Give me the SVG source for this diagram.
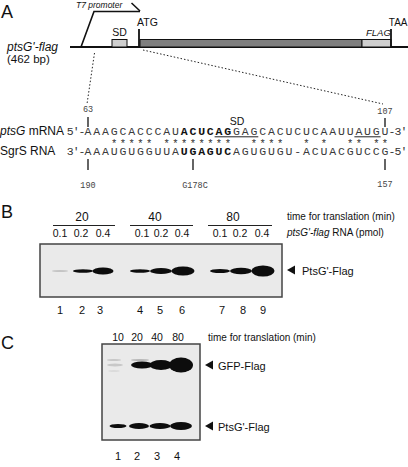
<svg xmlns="http://www.w3.org/2000/svg" width="408" height="467" viewBox="0 0 408 467">
<defs>
<style>
.sans{font-family:"Liberation Sans",Arial,sans-serif;fill:#111}
.it{font-style:italic}
.mono{font-family:"Liberation Mono","Courier New",monospace;fill:#333}
.end{font-family:"Liberation Mono","Courier New",monospace;font-size:11.5px;letter-spacing:-1px;fill:#333}
.seq{font-family:"Liberation Mono","Courier New",monospace;font-size:11.5px;letter-spacing:1.835px;fill:#3a3a3a}
.b{font-weight:bold;fill:#111}
.num{font-family:"Liberation Mono","Courier New",monospace;font-size:8.5px;fill:#444;text-anchor:middle}
.tick{stroke:#111;stroke-width:1.3}
.blot{fill:#eaeaea;stroke:#444;stroke-width:1.5}
.band{fill:#0d0d0d}
.hdr{stroke:#222;stroke-width:1}
</style>
<filter id="soft" x="-20%" y="-50%" width="140%" height="200%"><feGaussianBlur stdDeviation="0.7"/></filter>
</defs>
<rect width="408" height="467" fill="#fff"/>

<!-- Panel A -->
<text class="sans" x="1" y="18" font-size="18">A</text>
<g id="construct">
<line x1="70" y1="47" x2="408" y2="47" stroke="#111" stroke-width="2"/>
<polyline points="81,47 94,11.5 140,11.5" fill="none" stroke="#111" stroke-width="1.6"/>
<line x1="131.5" y1="3" x2="140" y2="11" stroke="#111" stroke-width="1.6"/>
<text class="sans it" x="76" y="8" font-size="8.5">T7 promoter</text>
<rect x="112" y="39.5" width="15" height="7.5" fill="#cfcfcf" stroke="#111" stroke-width="1"/>
<text class="sans" x="119.5" y="36" font-size="10.5" text-anchor="middle">SD</text>
<rect x="140" y="39.5" width="222" height="7.5" fill="#7f7f7f" stroke="#111" stroke-width="1"/>
<rect x="362" y="39.5" width="29" height="7.5" fill="#cfcfcf" stroke="#111" stroke-width="1"/>
<text class="sans it" x="366" y="36" font-size="9.5">FLAG</text>
<line x1="139" y1="29" x2="139" y2="47" stroke="#111" stroke-width="1.8"/>
<line x1="391" y1="29" x2="391" y2="47" stroke="#111" stroke-width="1.8"/>
<text class="sans" x="137" y="26" font-size="10.5">ATG</text>
<text class="sans" x="407.5" y="26" font-size="10" text-anchor="end">TAA</text>
<text class="sans it" x="7" y="51" font-size="12">ptsG'-flag</text>
<text class="sans" x="7" y="63" font-size="11.5">(462 bp)</text>
</g>
<g id="connectors">
<line x1="94.5" y1="53" x2="87" y2="104" stroke="#222" stroke-width="1" stroke-dasharray="1.5,2"/>
<line x1="143" y1="50" x2="383" y2="104" stroke="#222" stroke-width="1" stroke-dasharray="1.5,2"/>
</g>

<g id="sequence">
<text class="num" x="88" y="112">63</text>
<text class="num" x="385" y="114">107</text>
<line class="tick" x1="88" y1="117" x2="88" y2="127"/>
<line class="tick" x1="385" y1="118" x2="385" y2="127"/>
<text class="sans" x="237" y="124.5" font-size="10.5" text-anchor="middle">SD</text>
<text class="sans" x="0" y="134.5" font-size="12"><tspan class="it">ptsG</tspan> mRNA</text>
<text class="sans" x="0" y="155" font-size="12">SgrS RNA</text>
<text class="end" x="84.5" y="134.5" text-anchor="end">5'-</text>
<text class="seq" x="84.55" y="134.5">AAAGCACCCAU<tspan class="b">ACUCAG</tspan>GAGCACUCUCAAUUAUGU</text>
<text class="end" x="388.6" y="134.5">-3'</text>
<line x1="214.6" y1="136.8" x2="258.3" y2="136.8" stroke="#222" stroke-width="1"/>
<line x1="354.4" y1="136.8" x2="380.6" y2="136.8" stroke="#222" stroke-width="1"/>
<text class="mono" y="147" font-size="10.5" text-anchor="middle" fill="#444" x="114.2 122.9 131.7 140.4 149.1 166.6 175.4 184.1 192.8 201.6 210.3 219.0 227.8 254.0 262.7 271.4 280.2 306.4 323.9 350.1 358.8 376.3 385.0">***********************</text>
<text class="end" x="84.5" y="155" text-anchor="end">3'-</text>
<text class="seq" x="84.55" y="155">AAAUGUGGUUA<tspan class="b">UGAGUC</tspan>AGUGUGU-ACUACGUCCG</text>
<text class="end" x="388.6" y="155">-5'</text>
<line class="tick" x1="88" y1="159" x2="88" y2="170"/>
<line class="tick" x1="193" y1="159" x2="193" y2="170"/>
<line class="tick" x1="385" y1="159" x2="385" y2="170"/>
<text class="num" x="88" y="188">190</text>
<text class="num" x="195" y="188" font-size="9">G178C</text>
<text class="num" x="385" y="187">157</text>
</g>

<!-- Panel B -->
<text class="sans" x="1" y="218" font-size="18">B</text>
<g id="blotB">
<g class="sans" font-size="12" text-anchor="middle">
<text x="82" y="221">20</text><text x="155" y="221">40</text><text x="233" y="221">80</text>
</g>
<line class="hdr" x1="53" y1="225.5" x2="115" y2="225.5"/>
<line class="hdr" x1="130" y1="225.5" x2="193" y2="225.5"/>
<line class="hdr" x1="208" y1="225.5" x2="272" y2="225.5"/>
<g class="sans" font-size="10.5" text-anchor="middle">
<text x="60" y="237">0.1</text><text x="81" y="237">0.2</text><text x="103" y="237">0.4</text>
<text x="142" y="237">0.1</text><text x="161" y="237">0.2</text><text x="182" y="237">0.4</text>
<text x="220" y="237">0.1</text><text x="240" y="237">0.2</text><text x="262" y="237">0.4</text>
</g>
<text class="sans" x="287" y="220" font-size="10">time for translation (min)</text>
<text class="sans" x="287" y="236" font-size="10"><tspan class="it">ptsG'-flag</tspan> RNA (pmol)</text>
<rect class="blot" x="40" y="244" width="242" height="53"/>
<g filter="url(#soft)">
<ellipse cx="60" cy="271" rx="8" ry="1" fill="#c4c4c4"/>
<ellipse class="band" cx="83" cy="271" rx="10" ry="1.8"/>
<ellipse class="band" cx="103" cy="271" rx="10.5" ry="3.6"/>
<ellipse class="band" cx="140" cy="271" rx="10" ry="1.8"/>
<ellipse class="band" cx="161" cy="271" rx="11" ry="3"/>
<ellipse class="band" cx="183" cy="271" rx="11.5" ry="4.5"/>
<ellipse class="band" cx="220" cy="271" rx="10" ry="2"/>
<ellipse class="band" cx="241" cy="271" rx="11" ry="3.3"/>
<ellipse class="band" cx="263" cy="271" rx="11.5" ry="5.5"/>
</g>
<polygon points="287,270 295,265.5 295,274.5" fill="#111"/>
<text class="sans" x="302" y="275" font-size="11">PtsG'-Flag</text>
<g class="sans" font-size="11" text-anchor="middle">
<text x="60" y="314">1</text><text x="82" y="314">2</text><text x="100" y="314">3</text>
<text x="140" y="314">4</text><text x="160" y="314">5</text><text x="182" y="314">6</text>
<text x="222" y="314">7</text><text x="243" y="314">8</text><text x="263" y="314">9</text>
</g>
</g>

<!-- Panel C -->
<text class="sans" x="1" y="349" font-size="18">C</text>
<g id="blotC">
<g class="sans" font-size="10.5" text-anchor="middle">
<text x="118" y="341">10</text><text x="137" y="341">20</text><text x="157" y="341">40</text><text x="178" y="341">80</text>
</g>
<text class="sans" x="208" y="341" font-size="10">time for translation (min)</text>
<rect class="blot" x="102" y="344" width="98" height="96" fill="#ededed"/>
<g filter="url(#soft)">
<ellipse cx="114" cy="360" rx="7" ry="1" fill="#c8c8c8"/>
<ellipse cx="140" cy="360" rx="9" ry="1" fill="#b8b8b8"/>
<ellipse cx="115" cy="365" rx="8" ry="1.5" fill="#c8c8c8"/>
<ellipse cx="114" cy="371" rx="6" ry="0.8" fill="#d6d6d6"/>
<ellipse class="band" cx="142" cy="365" rx="11" ry="3.5"/>
<ellipse class="band" cx="161" cy="365" rx="11.5" ry="5"/>
<ellipse class="band" cx="181" cy="365" rx="12" ry="7.5"/>
<ellipse class="band" cx="118" cy="426" rx="8.5" ry="2"/>
<ellipse class="band" cx="139" cy="426" rx="10" ry="3"/>
<ellipse class="band" cx="160" cy="426" rx="10.5" ry="3"/>
<ellipse class="band" cx="181" cy="426" rx="11" ry="4"/>
</g>
<polygon points="205,365 213,360.5 213,369.5" fill="#111"/>
<text class="sans" x="218" y="370" font-size="11">GFP-Flag</text>
<polygon points="205,426 213,421.5 213,430.5" fill="#111"/>
<text class="sans" x="218" y="431" font-size="11">PtsG'-Flag</text>
<g class="sans" font-size="11" text-anchor="middle">
<text x="118" y="460">1</text><text x="137" y="460">2</text><text x="157" y="460">3</text><text x="177" y="460">4</text>
</g>
</g>
</svg>
